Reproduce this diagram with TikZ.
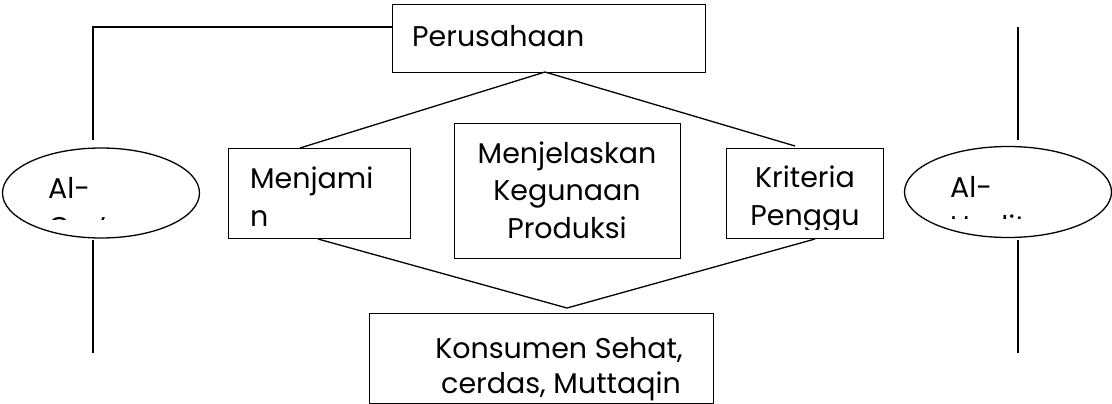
\documentclass[tikz,border=0pt]{standalone}
\usepackage{fontspec}
\setmainfont{Poppins}
\usetikzlibrary{shapes.geometric}
\begin{document}
\begin{tikzpicture}[x=1pt,y=-1pt,
  lw/.style={line width=1.3pt},
  box/.style={draw, lw, rectangle, inner sep=0pt, anchor=north west},
  oval/.style={draw, lw, ellipse, inner sep=0pt},
  txt/.style={inner sep=0pt, font=\fontsize{28.5}{34}\selectfont},
  conn/.style={lw}]
\useasboundingbox (0,0) rectangle (1112,404);
% boxes
\node[box, minimum width=313pt, minimum height=68pt] (perus) at (392,4) {};
\node[box, minimum width=182pt, minimum height=90pt] (menjamin) at (228,148) {};
\node[box, minimum width=226pt, minimum height=135pt] (guna) at (454,123) {};
\node[box, minimum width=157pt, minimum height=90pt] (kriteria) at (726,148) {};
\node[box, minimum width=344pt, minimum height=90pt] (konsumen) at (369,313) {};
\node[oval, minimum width=197pt, minimum height=90pt] (quran) at (101,193) {};
\node[oval, minimum width=207pt, minimum height=91pt] (hadits) at (1008,192) {};
% texts (clipped like the original)
\begin{scope}
  \clip (392,4) rectangle (705,72);
  \node[txt, anchor=base west] (tperus) at (412,47) {Perusahaan};
\end{scope}
\begin{scope}
  \clip (228,148) rectangle (410,238);
  \node[txt, anchor=base west] (tmenj1) at (250,188) {Menjami};
  \node[txt, anchor=base west] (tmenj2) at (250,226) {n};
\end{scope}
\node[txt, anchor=base] (tguna1) at (567,163) {Menjelaskan};
\node[txt, anchor=base] (tguna2) at (567,200) {Kegunaan};
\node[txt, anchor=base] (tguna3) at (567,238) {Produksi};
\begin{scope}
  \clip (726,148) rectangle (883,229);
  \node[txt, anchor=base] (tkrit1) at (805,187) {Kriteria};
  \node[txt, anchor=base] (tkrit2) at (805,225) {Penggu};
\end{scope}
\begin{scope}
  \clip (369,313) rectangle (713,403);
  \node[txt, anchor=base] (tkons1) at (559,358) {Konsumen Sehat,};
  \node[txt, anchor=base] (tkons2) at (561,393) {cerdas, Muttaqin};
\end{scope}
\begin{scope}
  \clip (0,150) rectangle (200,219);
  \node[txt, anchor=base west] (tquran) at (48,198) {Al-};
  \node[txt, anchor=base west] (tquran2) at (48,237) {Qur'an};
\end{scope}
\begin{scope}
  \clip (900,150) rectangle (1112,218);
  \node[txt, anchor=base west] (thadits) at (950,197) {Al-};
  \node[txt, anchor=base west] (thadits2) at (950,236) {Hadits};
\end{scope}
% connectors
\coordinate (peak) at (545,72);
\coordinate (mtop) at (300,148);
\coordinate (ktop) at (795,146);
\coordinate (mbot) at (318,239);
\coordinate (kbot) at (815,239);
\coordinate (vee) at (567,308);
\draw[conn] (mtop) -- (peak) -- (ktop);
\draw[conn] (mbot) -- (vee) -- (kbot);
\coordinate (lq1) at (93,140);
\coordinate (lq2) at (93,27);
\draw[conn] (lq1) -- (lq2) -- (lq2 -| perus.west);
\coordinate (lq3) at (93,240);
\coordinate (lq4) at (93,353);
\draw[conn] (lq3) -- (lq4);
\coordinate (rh1) at (1018,27);
\coordinate (rh2) at (1018,140);
\draw[conn] (rh1) -- (rh2);
\coordinate (rh3) at (1018,240);
\coordinate (rh4) at (1018,353);
\draw[conn] (rh3) -- (rh4);
\end{tikzpicture}
\end{document}
